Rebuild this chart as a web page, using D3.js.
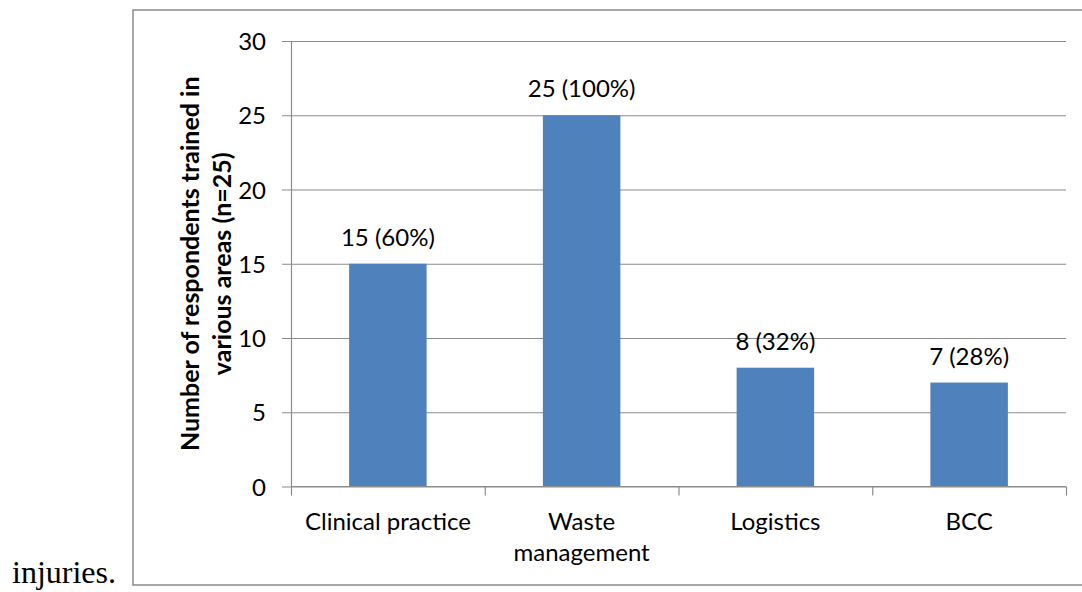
<!DOCTYPE html>
<html>
<head>
<meta charset="utf-8">
<script src="https://cdn.jsdelivr.net/npm/d3@7"></script>
<style>
  html, body { margin: 0; padding: 0; background: #fff; }
  svg { display: block; }
  .lbl { font-family: Lato, "Open Sans", sans-serif; fill: #000; }
</style>
</head>
<body>
<svg id="chart" width="1082" height="592"></svg>
<script>
// Training areas and respondents trained in each (n = 25)
const categories = ["Clinical practice", "Waste management", "Logistics", "BCC"];
const categoryLines = [["Clinical practice"], ["Waste", "management"], ["Logistics"], ["BCC"]];
const trained = [15, 25, 8, 7];
const percents = [60, 100, 32, 28];
const yTicks = [0, 5, 10, 15, 20, 25, 30];
const yTitleLines = ["Number of respondents trained in", "various areas (n=25)"];

const svg = d3.select("#chart");
const gridColor = "#8c8c8c";
const barColor = "#4f81bd";

// surrounding text from the page
svg.append("text")
  .attr("x", 12).attr("y", 583)
  .style("font-family", "'Liberation Serif', 'Times New Roman', serif")
  .style("font-size", "32px")
  .text("injuries.");

// chart frame
svg.append("rect")
  .attr("x", 133).attr("y", 10)
  .attr("width", 1000).attr("height", 575)
  .attr("fill", "#fff")
  .attr("stroke", "#8a8a8a")
  .attr("stroke-width", 1.5);

const plot = { left: 291, right: 1066, top: 41, bottom: 486.5 };

const x = d3.scaleBand()
  .domain(categories)
  .range([plot.left, plot.right])
  .paddingInner(0.6)
  .paddingOuter(0.3);

const y = d3.scaleLinear()
  .domain([0, 30])
  .range([plot.bottom, plot.top]);

// value axis with gridlines
const yAxis = svg.append("g")
  .attr("transform", `translate(${plot.left},0)`)
  .call(d3.axisLeft(y).tickValues(yTicks).tickSize(0).tickPadding(25));
yAxis.select(".domain").attr("stroke", gridColor).attr("stroke-width", 1.2);
yAxis.selectAll(".tick line")
  .attr("x1", -9).attr("x2", plot.right - plot.left)
  .attr("stroke", gridColor).attr("stroke-width", 1.2);
yAxis.selectAll(".tick text")
  .attr("class", "lbl")
  .style("font-size", "24px")
  .attr("dy", "0.36em");
yAxis.attr("font-family", null).attr("font-size", null);

// category boundary ticks
const bounds = d3.scaleLinear().domain([0, categories.length]).range([plot.left, plot.right]);
const xTicks = svg.append("g")
  .attr("transform", `translate(0,${plot.bottom})`)
  .call(d3.axisBottom(bounds).tickValues(d3.range(categories.length + 1)).tickSize(9).tickFormat(""));
xTicks.select(".domain").remove();
xTicks.selectAll(".tick line").attr("stroke", gridColor).attr("stroke-width", 1.2);

// bars
svg.append("g").selectAll("rect")
  .data(categories)
  .join("rect")
  .attr("x", d => x(d))
  .attr("width", x.bandwidth())
  .attr("y", (d, i) => y(trained[i]))
  .attr("height", (d, i) => y(0) - y(trained[i]))
  .attr("fill", barColor);

// baseline
svg.append("line")
  .attr("x1", plot.left).attr("x2", plot.right)
  .attr("y1", plot.bottom).attr("y2", plot.bottom)
  .attr("stroke", gridColor).attr("stroke-width", 1.2);

// value labels above the bars
svg.append("g").selectAll("text")
  .data(categories)
  .join("text")
  .attr("class", "lbl")
  .style("font-size", "24px")
  .attr("text-anchor", "middle")
  .attr("x", d => x(d) + x.bandwidth() / 2)
  .attr("y", (d, i) => y(trained[i]) - 18)
  .text((d, i) => `${trained[i]} (${percents[i]}%)`);

// category labels
const xAxis = svg.append("g")
  .attr("transform", `translate(0,${plot.bottom})`)
  .call(d3.axisBottom(x).tickSize(0).tickPadding(0));
xAxis.select(".domain").remove();
xAxis.selectAll(".tick text").each(function(d, i) {
  const t = d3.select(this)
    .attr("class", "lbl")
    .style("font-size", "24px")
    .attr("y", 0).attr("dy", null)
    .text(null);
  categoryLines[i].forEach((line, k) => {
    t.append("tspan").attr("x", 0).attr("y", 43.5 + k * 31).text(line);
  });
});

// value axis title
const title = svg.append("text")
  .attr("class", "lbl")
  .style("font-size", "25px")
  .style("font-weight", "bold")
  .attr("text-anchor", "middle")
  .attr("transform", `translate(199,${(plot.top + plot.bottom) / 2}) rotate(-90)`);
yTitleLines.forEach((line, k) => {
  title.append("tspan").attr("x", 0).attr("y", k * 32).text(line);
});
</script>
</body>
</html>
